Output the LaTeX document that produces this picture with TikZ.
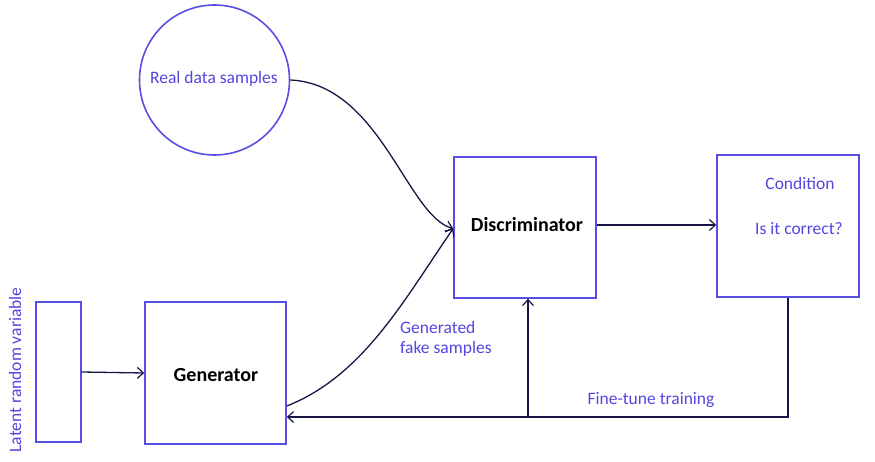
\documentclass[tikz,border=0pt]{standalone}
\usepackage{fontspec}
\setmainfont{Carlito}
\usetikzlibrary{arrows.meta,calc}
\definecolor{boxblue}{RGB}{88,78,228}
\definecolor{txtblue}{RGB}{82,70,222}
\definecolor{navy}{RGB}{22,22,70}
\begin{document}
\begin{tikzpicture}[x=1pt,y=-1pt,
  blk/.style={draw=boxblue,line width=1.6pt,inner sep=0pt},
  conn/.style={draw=navy,line width=1.3pt},
  tip/.style={-{Straight Barb[length=6pt,width=11pt,line width=1.2pt]}},
  lbl/.style={text=txtblue,font=\fontsize{17.5}{20}\selectfont,inner sep=0pt},
  bold/.style={font=\fontsize{20}{23}\selectfont\bfseries,inner sep=0pt}]
\useasboundingbox (0,0) rectangle (875,462);
% nodes
\node[blk,circle,minimum size=150pt] (real) at (214.5,80) {};
\node[lbl] (reallbl) at (214,79) {Real data samples};
\node[blk,minimum width=45pt,minimum height=140pt] (lat) at (58.5,372) {};
\node[lbl,rotate=90] (latlbl) at (15,370) {Latent random variable};
\node[blk,minimum width=141pt,minimum height=142pt] (gen) at (215.5,373) {};
\node[bold] (genlbl) at (216,375) {Generator};
\node[blk,minimum width=142pt,minimum height=141pt] (disc) at (525,227.5) {};
\node[bold] (disclbl) at (527,225) {Discriminator};
\node[blk,minimum width=142pt,minimum height=142pt] (cond) at (788,226) {};
\node[lbl] (condlbl) at (800,183) {Condition};
\node[lbl] (corr) at (799,229) {Is it correct?};
\node[lbl,align=left,anchor=north west] (fake) at (400,321) {Generated\\fake samples};
\node[lbl] (fine) at (651,400) {Fine-tune training};
% connectors
\coordinate (gin) at ($(gen.east)+(0,33)$);
\coordinate (din) at ($(disc.west)+(0,1)$);
\draw[conn,tip] (real.east) .. controls (380,84) and (407,216) .. (din);
\draw[conn,tip] (gin) .. controls (363,376) and (404,300) .. (din);
\draw[conn,tip] (lat.east) -- (gen.west);
\draw[conn,tip] ($(disc.east)+(0,-2.5)$) -- ($(cond.west)+(0,-1)$);
\coordinate (corner) at (cond.south |- 0,417);
\coordinate (gfb) at ($(gen.east)+(0,44)$);
\draw[conn,tip] (cond.south) -- (corner) -- (gfb);
\coordinate (split) at ($(disc.south)+(3,0)$);
\draw[conn,tip] (split |- 0,417) -- (split);
\end{tikzpicture}
\end{document}
